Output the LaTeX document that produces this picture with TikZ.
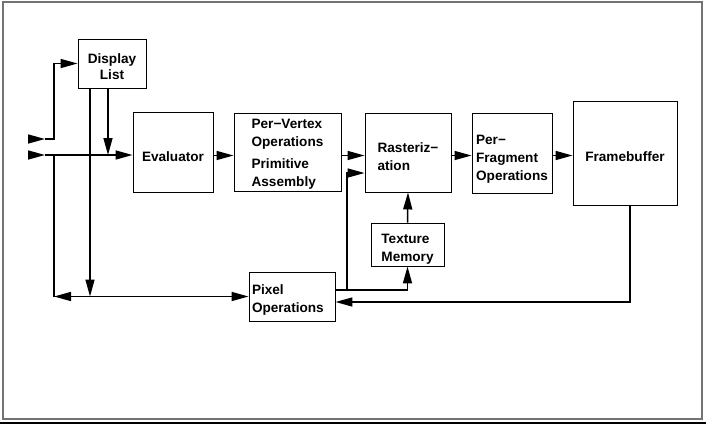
\documentclass[tikz,border=0pt]{standalone}
\usepackage{fontspec}
\setmainfont{Liberation Sans}
\usetikzlibrary{arrows.meta}
\tikzstyle{stage} = [draw=black, line width=0.9pt, inner sep=0pt]
\tikzstyle{caption} = [font={\fontsize{13.6}{18}\selectfont\bfseries}, align=left, inner sep=0pt]
\tikzstyle{frame} = [draw=black!55, line width=1.2pt]

\begin{document}
\begin{tikzpicture}[x=1pt, y=-1pt, line width=1.5pt, >={Triangle[length=17pt,width=9pt]}, every label/.style={caption}]
    \useasboundingbox (0,0) rectangle (706,424);
    \draw[frame] (3,2) rectangle (702,419);
    \draw[line width=1.6pt] (0,423) -- (706,423);

    \node[stage, minimum width=68pt, minimum height=49pt, label={[yshift=-3pt, align=center]center:Display\\[-2pt]List}](list) at (112,63.5){};
    \node[stage, minimum width=80pt, minimum height=80pt, label={[yshift=-5pt]center:Evaluator}](eval) at (173,152){};
    \node[stage, minimum width=107pt, minimum height=78pt, label={[yshift=-2.5pt]center:Per−Vertex\\Operations\\[4pt]Primitive\\Assembly}](vertex) at (287.5,152){};
    \node[stage, minimum width=86pt, minimum height=79pt, label={[yshift=-4pt]center:Rasteriz−\\ation}](raster) at (408,152.5){};
    \node[stage, minimum width=73pt, minimum height=43pt, label={[yshift=-5pt]center:Texture\\Memory}](texture) at (407.5,244.5){};
    \node[stage, minimum width=86pt, minimum height=49pt, label={[yshift=-3pt, text width=80pt]center:Pixel\\Operations}](pixel) at (292,296.5){};
    \node[stage, minimum width=80pt, minimum height=80pt, label={[yshift=-6pt]center:Per−\\Fragment\\Operations}](fragment) at (512,153){};
    \node[stage, minimum width=104pt, minimum height=104pt, label={[yshift=-4pt]center:Framebuffer}](fb) at (625,153){};

    \coordinate (main) at (0,155.5);
    \coordinate (split) at (54,155);
    \coordinate (in1) at (29,139);
    \coordinate (in1tip) at (45,139);
    \coordinate (in2) at (29,155);
    \coordinate (in2tip) at (45,155);
    \coordinate (drop) at (90,88);
    \coordinate (feed) at (108,88);
    \coordinate (tap) at (347,290);
    \coordinate (rin) at (0,173);
    \coordinate (fbout) at (630,205);
    \coordinate (fbret) at (0,302);

    % inputs
    \draw[->] (in1) -- (in1tip);
    \draw[->] (in2) -- (in2tip);
    \draw[->] (in1tip) -| (split |- list.west) -- (list.west);
    \draw[->] (in2tip) -- (eval.west |- split);
    \draw (split) -- (split |- pixel.west);
    \draw[<->] (split |- pixel.west) -- (pixel.west);
    \draw[->] (drop) -- (drop |- pixel.west);
    \draw[->] (feed) -- (feed |- split);

    % main pipeline
    \draw[->] (eval.east |- main) -- (vertex.west |- main);
    \draw[->] (vertex.east |- main) -- (raster.west |- main);
    \draw[->] (raster.east |- main) -- (fragment.west |- main);
    \draw[->] (fragment.east |- main) -- (fb.west |- main);

    % pixel path
    \draw[->] (pixel.east |- tap) -| (texture.south);
    \draw[->] (tap) |- (raster.west |- rin);
    \draw[->] (texture.north) -- (raster.south);
    \draw[->] (fbout) |- (pixel.east |- fbret);
  \end{tikzpicture}
\end{document}
